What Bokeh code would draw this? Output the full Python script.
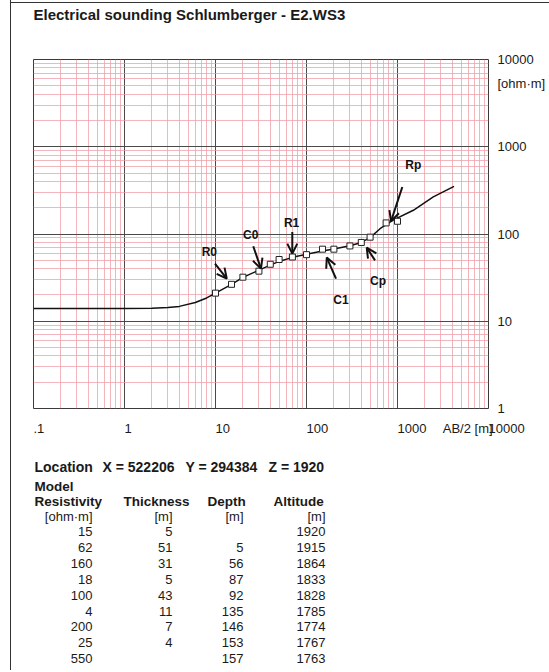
from bokeh.plotting import figure
from bokeh.models import (FixedTicker, LabelSet, Arrow, OpenHead, Range1d,
                          ColumnDataSource)
from bokeh.layouts import column
from bokeh.embed import file_html
from bokeh.resources import INLINE
from bokeh.core.properties import value

FONT = "Liberation Sans"

# ---------------- data ----------------
title_text = "Electrical sounding Schlumberger - E2.WS3"
x_ticks = [0.1, 1, 10, 100, 1000, 10000]
x_tick_labels = [".1", "1", "10", "100", "1000", "10000"]
x_unit_at = 5900
x_unit_label = "AB/2 [m]"
y_ticks = [1, 10, 100, 1000, 10000]
y_tick_labels = ["1", "10", "100", "1000", "10000"]
y_unit_at = 5300
y_unit_label = "[ohm·m]"

# model curve (AB/2 [m], apparent resistivity [ohm m])
curve_ab2 = [0.1, 0.5, 1, 2, 3, 4, 6, 8, 10, 15, 20, 30, 40, 50, 70, 100,
             150, 200, 300, 400, 500, 643, 894, 1493, 2473, 4180]
curve_rho = [14, 14, 14, 14.1, 14.4, 14.8, 16.4, 18.5, 21, 26.5, 31.8, 38.5,
             44, 48.5, 54, 58.5, 64, 67.5, 73.5, 80, 91, 115, 144, 187, 266, 352]

# measured points
meas_ab2 = [10, 15, 20, 30, 40, 50, 70, 100, 150, 200, 300, 400, 500, 750, 1000]
meas_rho = [21, 26.5, 32, 37.5, 45, 51, 54.5, 58, 67, 67, 73, 80, 92, 134, 140]

# annotations (label anchor and arrows, in data units)
ann_text = ["R0", "C0", "R1", "C1", "Cp", "Rp"]
ann_label_x = [8.55, 24.4, 68.6, 239, 611, 1493]
ann_label_y = [62.2, 98.4, 133.7, 17.7, 29.3, 614]
ann_x0 = [9.87, 26, 69.8, 211, 566, 1130]
ann_y0 = [45.8, 72.3, 105.4, 30.8, 49.9, 346]
ann_x1 = [13.3, 31.6, 69.8, 167, 459, 849]
ann_y1 = [30.8, 40.1, 59.6, 53.6, 69.8, 140]

# location / model table
loc_parts = ["Location", "X = 522206", "Y = 294384", "Z = 1920"]
headers = ["Model", "Resistivity", "Thickness", "Depth", "Altitude"]
units = ["[ohm·m]", "[m]", "[m]", "[m]"]
resistivity = [15, 62, 160, 18, 100, 4, 200, 25, 550]
thickness = [5, 51, 31, 5, 43, 11, 7, 4, None]
depth = [None, 5, 56, 87, 92, 135, 146, 153, 157]
altitude = [1920, 1915, 1864, 1833, 1828, 1785, 1774, 1767, 1763]

# ---------------- layout constants ----------------
W = 549
FL, FR = 33, 488          # frame left / right (page px)
HEAD_H, CHART_H, TABLE_H = 40, 405, 225
INK = "#1a1a1a"
NBSP = "\u00a0"


def blank_fig(h, y0):
    f = figure(width=W, height=h, x_range=Range1d(FL, FR),
               y_range=Range1d(y0 + h, y0), output_backend="svg",
               toolbar_location=None, min_border_left=FL,
               min_border_right=W - FR, min_border_top=0, min_border_bottom=0,
               x_axis_location=None, y_axis_location=None)
    f.grid.visible = False
    f.outline_line_color = None
    f.border_fill_color = None
    f.background_fill_color = None
    return f


def left_start(lbl):
    # labels of this chart start at their tick: pad on the left (centred labels)
    n = sum(1 if ch == "." else 2 for ch in lbl)
    return NBSP * n + lbl


common = dict(text_font=value(FONT), text_color=INK, text_baseline="middle")

# ---------------- heading ----------------
head = blank_fig(HEAD_H, 0)
head.text(x=[FL], y=[14], text=[title_text], text_align="left",
          text_font_size="15px", text_font_style="bold", **common)

# ---------------- chart ----------------
p = figure(width=W, height=CHART_H, x_axis_type="log", y_axis_type="log",
           x_range=Range1d(0.1, 10000), y_range=Range1d(1, 10000),
           y_axis_location="right", output_backend="svg", toolbar_location=None,
           min_border_left=FL, min_border_right=W - FR, min_border_top=19,
           min_border_bottom=37)
p.border_fill_color = None
p.outline_line_color = "#3a3a3a"
p.outline_line_width = 1

x_minor = [m * 10.0 ** k for k in range(-1, 4) for m in range(2, 10)]
y_minor = [m * 10.0 ** k for k in range(0, 4) for m in range(2, 10)]
p.xgrid.ticker = FixedTicker(ticks=x_ticks, minor_ticks=x_minor)
p.ygrid.ticker = FixedTicker(ticks=y_ticks, minor_ticks=y_minor)
p.xaxis.ticker = FixedTicker(ticks=x_ticks + [x_unit_at])
p.yaxis.ticker = FixedTicker(ticks=y_ticks + [y_unit_at])
x_over = {t: left_start(l) for t, l in zip(x_ticks, x_tick_labels)}
x_over[x_unit_at] = x_unit_label
p.xaxis.major_label_overrides = x_over
p.yaxis.major_label_overrides = dict(zip(y_ticks + [y_unit_at],
                                         y_tick_labels + [y_unit_label]))

for ax in (p.xaxis[0], p.yaxis[0]):
    ax.axis_line_color = None
    ax.major_tick_line_color = None
    ax.minor_tick_line_color = None
    ax.major_tick_out = 0
    ax.major_tick_in = 0
    ax.minor_tick_out = 0
    ax.major_label_text_font = FONT
    ax.major_label_text_font_size = "13px"
    ax.major_label_text_color = INK
p.xaxis.major_label_standoff = 12
p.yaxis.major_label_standoff = 9

for g in (p.xgrid[0], p.ygrid[0]):
    g.grid_line_color = "#4a4a4a"
    g.grid_line_width = 1
    g.grid_line_alpha = 1
    g.minor_grid_line_color = "#f09aa4"
    g.minor_grid_line_alpha = 0.72
    g.minor_grid_line_width = 1
    g.level = "underlay"

p.line(curve_ab2, curve_rho, line_color="#111111", line_width=1.5)
p.scatter(meas_ab2, meas_rho, marker="square", size=6, fill_color="white",
          line_color="#222222", line_width=1)

ann_src = ColumnDataSource(dict(x=ann_label_x, y=ann_label_y, text=ann_text,
                                x0=ann_x0, y0=ann_y0, x1=ann_x1, y1=ann_y1))
p.add_layout(Arrow(end=OpenHead(size=10, line_width=2, line_color="#111111"),
                   x_start="x0", y_start="y0", x_end="x1", y_end="y1",
                   line_width=2, line_color="#111111", source=ann_src))
p.add_layout(LabelSet(x="x", y="y", text="text", source=ann_src,
                      text_align="center", text_baseline="middle",
                      text_font=value(FONT), text_font_style="bold",
                      text_font_size="12px", text_color="#111111"))

# ---------------- table ----------------
T0 = HEAD_H + CHART_H
t = blank_fig(TABLE_H, T0)


def s(v):
    return "" if v is None else str(v)


t.text(x=[34, 102, 185, 268], y=[466] * 4, text=loc_parts, text_align="left",
       text_font_size="14px", text_font_style="bold", **common)
t.text(x=[34, 34, 123, 207, 273], y=[486, 501, 501, 501, 501], text=headers,
       text_align="left", text_font_size="13.5px", text_font_style="bold", **common)
col_right = [92, 172, 243, 325]
t.text(x=col_right, y=[516] * 4, text=units, text_align="right",
       text_font_size="13px", **common)
rows_y = [531 + 15.9 * i for i in range(len(resistivity))]
for xr, col in zip(col_right, (resistivity, thickness, depth, altitude)):
    t.text(x=[xr] * len(col), y=rows_y, text=[s(v) for v in col],
           text_align="right", text_font_size="13px", **common)

frame_css = {
    "background-color": "white",
    "background-image": "linear-gradient(#333,#333), linear-gradient(#333,#333)",
    "background-size": "1px 100%, 100% 1px",
    "background-position": "10px 0px, 10px 2px",
    "background-repeat": "no-repeat",
}
layout = column(head, p, t, styles=frame_css)

open("out.html", "w").write(file_html(layout, INLINE))
